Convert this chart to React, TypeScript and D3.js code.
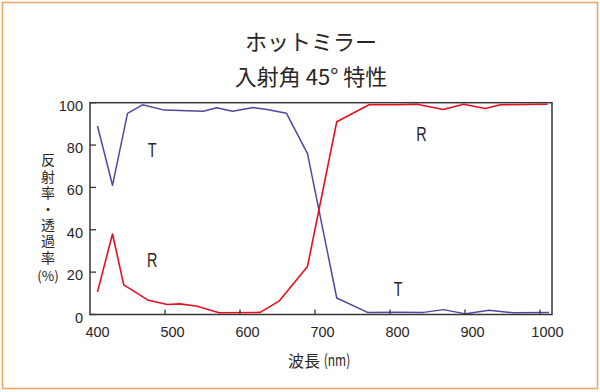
import * as d3 from "d3";

// ホットミラー 入射角45° — transmittance (T) and reflectance (R) vs wavelength
const titleLines = ["ホットミラー", "入射角 45° 特性"];
const yTitle = "反射率・透過率";
const yUnit = "(%)";
const xTicks = [400, 500, 600, 700, 800, 900, 1000];
const yTicks = [0, 20, 40, 60, 80, 100];

const tNm = [400, 420, 440, 460, 489, 520, 541, 559, 580, 608, 626, 652, 680, 719, 760, 800, 835, 861, 891, 922, 955, 1002];
const tVal = [89, 61, 95, 99, 96.5, 96.2, 96, 97.6, 96, 97.7, 96.8, 95, 76, 7.8, 1, 1.1, 1, 2.3, 0.3, 2, 0.8, 1];

const rNm = [400, 420, 435, 468, 493, 510, 533, 562, 617, 642, 680, 719, 762, 800, 826, 861, 888, 917, 937, 1000];
const rVal = [10.7, 38, 14, 6.7, 4.7, 5, 3.9, 0.8, 1, 6.3, 22.7, 91, 99, 99, 99.3, 96.8, 99.3, 97.3, 99, 99.3];

const curveLabels = [
  { text: "T", nm: 473, v: 74.5 },
  { text: "R", nm: 473, v: 22.6 },
  { text: "R", nm: 832, v: 82 },
  { text: "T", nm: 801, v: 8.5 },
];

const T_COLOR = "#4f48a3";
const R_COLOR = "#e60f1e";
const INK = "#2b2523";
const BOX = { left: 90, right: 552, top: 102.7, bottom: 314.5 };
const TICK_SHIFT = -7.5; // tick marks sit a little left of their labels in the original
const NUM_FONT = "'Liberation Sans', Arial, sans-serif";
const JP_FONT = "'Noto Sans CJK JP', sans-serif";

export default function App() {
  const x = d3.scaleLinear().domain([400, 1000]).range([97.5, 547.5]);
  const y = d3.scaleLinear().domain([0, 100]).range([BOX.bottom, BOX.top]);

  const line = d3
    .line<[number, number]>()
    .x((d) => x(d[0]))
    .y((d) => y(d[1]));

  const tPath = line(tNm.map((n, i) => [n, tVal[i]] as [number, number])) ?? "";
  const rPath = line(rNm.map((n, i) => [n, rVal[i]] as [number, number])) ?? "";

  return (
    <svg
      width={600}
      height={392}
      style={{ position: "absolute", left: 0, top: 0, background: "#fff" }}
    >
      <rect x={2.5} y={2.5} width={595} height={386} fill="#fff" stroke="#eba964" strokeWidth={1.6} />

      {titleLines.map((t, i) => (
        <text
          key={t}
          x={311}
          y={50 + i * 35}
          textAnchor="middle"
          fontFamily={JP_FONT}
          fontSize={22}
          fill={INK}
        >
          {t}
        </text>
      ))}

      {/* curves */}
      <path d={tPath} fill="none" stroke={T_COLOR} strokeWidth={1.5} strokeLinejoin="round" />
      <path d={rPath} fill="none" stroke={R_COLOR} strokeWidth={1.6} strokeLinejoin="round" />

      {/* frame */}
      <rect
        x={BOX.left}
        y={BOX.top}
        width={BOX.right - BOX.left}
        height={BOX.bottom - BOX.top}
        fill="none"
        stroke="#3a3433"
        strokeWidth={1.5}
      />

      {/* y ticks */}
      {yTicks.map((v) => (
        <g key={v}>
          <line x1={BOX.left} x2={BOX.left + 6} y1={y(v)} y2={y(v)} stroke="#3a3433" strokeWidth={1.3} />
          <text
            x={83}
            y={y(v) + 8}
            textAnchor="end"
            fontFamily={NUM_FONT}
            fontSize={14.5}
            fill={INK}
          >
            {v}
          </text>
        </g>
      ))}

      {/* x ticks */}
      {xTicks.map((v) => (
        <g key={v}>
          {v > 400 && (
            <line
              x1={x(v) + TICK_SHIFT}
              x2={x(v) + TICK_SHIFT}
              y1={BOX.bottom}
              y2={BOX.bottom - 5}
              stroke="#3a3433"
              strokeWidth={1.3}
            />
          )}
          <text
            x={x(v)}
            y={337}
            textAnchor="middle"
            fontFamily={NUM_FONT}
            fontSize={14.5}
            fill={INK}
          >
            {v}
          </text>
        </g>
      ))}

      {/* axis titles */}
      <text x={304} y={367} textAnchor="middle" fontFamily={JP_FONT} fontSize={16} fill={INK}>
        波長
      </text>
      <text
        transform="translate(337,366) scale(0.75,1)"
        textAnchor="middle"
        fontFamily={JP_FONT}
        fontSize={16}
        fill={INK}
      >
        (nm)
      </text>
      <text
        x={48}
        y={153}
        writingMode="vertical-rl"
        letterSpacing={2.2}
        fontFamily={JP_FONT}
        fontSize={14}
        fill={INK}
      >
        {yTitle}
      </text>
      <text x={48} y={280.5} textAnchor="middle" fontFamily={JP_FONT} fontSize={13.5} fill={INK}>
        {yUnit}
      </text>

      {/* curve labels (condensed lettering) */}
      {curveLabels.map((l, i) => (
        <text
          key={i}
          transform={`translate(${x(l.nm)},${y(l.v)}) scale(0.72,1)`}
          textAnchor="middle"
          fontFamily={NUM_FONT}
          fontSize={20}
          fill={INK}
        >
          {l.text}
        </text>
      ))}
    </svg>
  );
}
